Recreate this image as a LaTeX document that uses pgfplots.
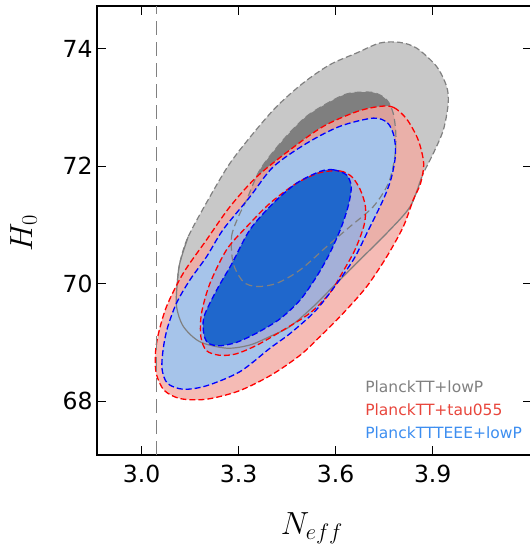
\RequirePackage{fix-cm}
\documentclass[border=0pt]{standalone}
\usepackage{fontspec}
\setmainfont{DejaVu Sans}
\usepackage{pgfplots}
\pgfplotsset{compat=1.18}
\definecolor{grayfill}{HTML}{C8C8C8}
\definecolor{darkgrayfill}{HTML}{7F7F7F}
\definecolor{grayline}{HTML}{808080}
\definecolor{pinkfill}{RGB}{243,170,162}
\definecolor{lightblue}{RGB}{166,196,234}
\definecolor{lavender}{RGB}{164,176,216}
\definecolor{darkblue}{RGB}{31,103,204}
\definecolor{legred}{RGB}{232,70,60}
\definecolor{legblue}{RGB}{61,142,240}

\begin{document}
\begin{tikzpicture}
\begin{axis}[
    scale only axis, width=435pt, height=449pt,
    xmin=2.862, xmax=4.207, ymin=67.08, ymax=74.73,
    xtick={3.0,3.3,3.6,3.9}, xticklabels={3.0,3.3,3.6,3.9},
    ytick={68,70,72,74}, yticklabels={68,70,72,74},
    tick align=inside, major tick length=9pt,
    every tick/.style={black, line width=0.9pt},
    axis line style={line width=1.8pt},
    tick label style={font=\fontsize{23.5}{28}\selectfont},
    xticklabel style={yshift=-7pt},
    yticklabel style={xshift=-1pt},
    xlabel={$N_{eff}$}, ylabel={$H_0$},
    label style={font=\fontsize{32}{36}\selectfont},
    xlabel style={at={(axis description cs:0.494,-0.178)}, anchor=base},
    ylabel style={at={(axis description cs:-0.149,0.494)}, anchor=base},
]
% PlanckTT+lowP, 2 sigma
\addplot[fill=grayfill, draw=grayline, line width=1.2pt, dash pattern=on 6pt off 3pt, smooth cycle] coordinates {
 (3.129,69.27) (3.108,69.61) (3.110,70.00) (3.118,70.35) (3.144,70.80) (3.211,71.48)
 (3.273,72.05) (3.345,72.56) (3.418,73.02) (3.500,73.42) (3.582,73.73) (3.665,73.93)
 (3.737,74.10) (3.799,74.11) (3.851,74.01) (3.912,73.70) (3.943,73.36) (3.948,73.07)
 (3.933,72.62) (3.902,72.22) (3.866,71.82) (3.830,71.31) (3.758,70.86) (3.685,70.46)
 (3.603,70.01) (3.531,69.61) (3.459,69.27) (3.397,69.10) (3.335,68.955) (3.263,68.90)
 (3.180,69.01)
};
% PlanckTT+lowP, 1 sigma
\addplot[fill=darkgrayfill, draw=none, smooth cycle] coordinates {
 (3.283,70.35) (3.278,70.80) (3.300,71.15) (3.325,71.43) (3.366,71.94) (3.438,72.45)
 (3.510,72.85) (3.593,73.13) (3.644,73.245) (3.716,73.256) (3.758,73.13) (3.778,72.90)
 (3.786,72.55) (3.783,72.165) (3.763,71.71) (3.716,71.31) (3.644,70.97) (3.572,70.63)
 (3.490,70.233) (3.418,70.006) (3.356,69.95) (3.314,70.034)
};
% PlanckTT+tau055, 2 sigma
\addplot[fill=pinkfill, fill opacity=0.8, draw=none, smooth cycle] coordinates {
 (3.737,73.02) (3.780,73.00) (3.820,72.80) (3.855,72.45) (3.872,72.05) (3.862,71.70)
 (3.840,71.43) (3.809,70.97) (3.758,70.46) (3.696,69.95) (3.624,69.50) (3.552,69.10)
 (3.490,68.78) (3.400,68.44) (3.300,68.17) (3.200,68.03) (3.120,68.04) (3.070,68.18)
 (3.046,68.45) (3.042,68.75) (3.050,69.10) (3.077,69.61) (3.129,70.18) (3.200,70.74)
 (3.273,71.31) (3.356,71.82) (3.459,72.28) (3.562,72.68) (3.665,72.93)
};
% PlanckTTTEEE+lowP, 2 sigma
\addplot[fill=lightblue, draw=none, smooth cycle] coordinates {
 (3.716,72.82) (3.760,72.74) (3.780,72.52) (3.785,72.20) (3.772,71.80) (3.747,71.43)
 (3.700,70.90) (3.654,70.40) (3.582,69.84) (3.531,69.50) (3.459,69.15) (3.397,68.90)
 (3.304,68.50) (3.201,68.26) (3.129,68.20) (3.080,68.30) (3.063,68.55) (3.067,68.90)
 (3.080,69.25) (3.108,69.67) (3.149,70.06) (3.201,70.46) (3.252,70.92) (3.335,71.48)
 (3.407,71.99) (3.510,72.39) (3.613,72.68)
};
% PlanckTT+tau055, 1 sigma
\addplot[fill=lavender, draw=none, smooth cycle] coordinates {
 (3.551,71.89) (3.613,71.92) (3.650,71.82) (3.676,71.60) (3.692,71.31) (3.688,71.00)
 (3.660,70.58) (3.622,70.20) (3.582,69.84) (3.521,69.50) (3.438,69.21) (3.356,68.95)
 (3.290,68.80) (3.240,68.78) (3.200,68.86) (3.183,69.10) (3.185,69.49) (3.211,70.00)
 (3.263,70.58) (3.325,70.97) (3.397,71.37) (3.479,71.71)
};
% PlanckTTTEEE+lowP, 1 sigma
\addplot[fill=darkblue, draw=none, smooth cycle] coordinates {
 (3.551,71.91) (3.593,71.94) (3.634,71.85) (3.648,71.65) (3.640,71.35) (3.618,70.97)
 (3.582,70.52) (3.541,70.12) (3.490,69.72) (3.428,69.40) (3.360,69.17) (3.294,69.00)
 (3.240,68.94) (3.205,68.99) (3.192,69.15) (3.193,69.44) (3.232,69.89) (3.280,70.35)
 (3.335,70.92) (3.407,71.37) (3.479,71.71)
};
% contour lines
\addplot[grayline, line width=1.2pt, smooth] coordinates {
 (3.144,70.80) (3.118,70.35) (3.110,70.00) (3.108,69.61) (3.129,69.27) (3.180,69.01)
 (3.263,68.90) (3.335,68.955) (3.397,69.10) (3.459,69.27) (3.531,69.61) (3.603,70.01)
 (3.685,70.46) (3.758,70.86) (3.830,71.31) (3.866,71.82)
};
\addplot[grayline, line width=1.2pt, dash pattern=on 7pt off 4pt, smooth cycle] coordinates {
 (3.283,70.35) (3.278,70.80) (3.300,71.15) (3.325,71.43) (3.366,71.94) (3.438,72.45)
 (3.510,72.85) (3.593,73.13) (3.644,73.245) (3.716,73.256) (3.758,73.13) (3.778,72.90)
 (3.786,72.55) (3.783,72.165) (3.763,71.71) (3.716,71.31) (3.644,70.97) (3.572,70.63)
 (3.490,70.233) (3.418,70.006) (3.356,69.95) (3.314,70.034)
};
\addplot[red, line width=1.3pt, dash pattern=on 6pt off 3pt, smooth cycle] coordinates {
 (3.737,73.02) (3.780,73.00) (3.820,72.80) (3.855,72.45) (3.872,72.05) (3.862,71.70)
 (3.840,71.43) (3.809,70.97) (3.758,70.46) (3.696,69.95) (3.624,69.50) (3.552,69.10)
 (3.490,68.78) (3.400,68.44) (3.300,68.17) (3.200,68.03) (3.120,68.04) (3.070,68.18)
 (3.046,68.45) (3.042,68.75) (3.050,69.10) (3.077,69.61) (3.129,70.18) (3.200,70.74)
 (3.273,71.31) (3.356,71.82) (3.459,72.28) (3.562,72.68) (3.665,72.93)
};
\addplot[red, line width=1.3pt, dash pattern=on 6pt off 3pt, smooth cycle] coordinates {
 (3.551,71.89) (3.613,71.92) (3.650,71.82) (3.676,71.60) (3.692,71.31) (3.688,71.00)
 (3.660,70.58) (3.622,70.20) (3.582,69.84) (3.521,69.50) (3.438,69.21) (3.356,68.95)
 (3.290,68.80) (3.240,68.78) (3.200,68.86) (3.183,69.10) (3.185,69.49) (3.211,70.00)
 (3.263,70.58) (3.325,70.97) (3.397,71.37) (3.479,71.71)
};
\addplot[blue, line width=1.3pt, dash pattern=on 6pt off 3pt, smooth cycle] coordinates {
 (3.716,72.82) (3.760,72.74) (3.780,72.52) (3.785,72.20) (3.772,71.80) (3.747,71.43)
 (3.700,70.90) (3.654,70.40) (3.582,69.84) (3.531,69.50) (3.459,69.15) (3.397,68.90)
 (3.304,68.50) (3.201,68.26) (3.129,68.20) (3.080,68.30) (3.063,68.55) (3.067,68.90)
 (3.080,69.25) (3.108,69.67) (3.149,70.06) (3.201,70.46) (3.252,70.92) (3.335,71.48)
 (3.407,71.99) (3.510,72.39) (3.613,72.68)
};
\addplot[blue, line width=1.3pt, dash pattern=on 6pt off 3pt, smooth cycle] coordinates {
 (3.551,71.91) (3.593,71.94) (3.634,71.85) (3.648,71.65) (3.640,71.35) (3.618,70.97)
 (3.582,70.52) (3.541,70.12) (3.490,69.72) (3.428,69.40) (3.360,69.17) (3.294,69.00)
 (3.240,68.94) (3.205,68.99) (3.192,69.15) (3.193,69.44) (3.232,69.89) (3.280,70.35)
 (3.335,70.92) (3.407,71.37) (3.479,71.71)
};
% standard N_eff
\addplot[grayline, line width=1.1pt, dash pattern=on 14pt off 7pt] coordinates {(3.046,67.08) (3.046,74.73)};
% legend
\node[anchor=west, inner sep=0pt, text=grayline, font=\fontsize{15.5}{18}\selectfont] at (axis cs:3.691,68.24) {PlanckTT+lowP};
\node[anchor=west, inner sep=0pt, text=legred, font=\fontsize{15.5}{18}\selectfont] at (axis cs:3.691,67.85) {PlanckTT+tau055};
\node[anchor=west, inner sep=0pt, text=legblue, font=\fontsize{15.5}{18}\selectfont] at (axis cs:3.691,67.455) {PlanckTTTEEE+lowP};
\end{axis}
\pgfresetboundingbox
\path ([shift={(-97pt,-97pt)}]current axis.south west) rectangle ([shift={(433pt,455pt)}]current axis.south west);
\end{tikzpicture}
\end{document}
